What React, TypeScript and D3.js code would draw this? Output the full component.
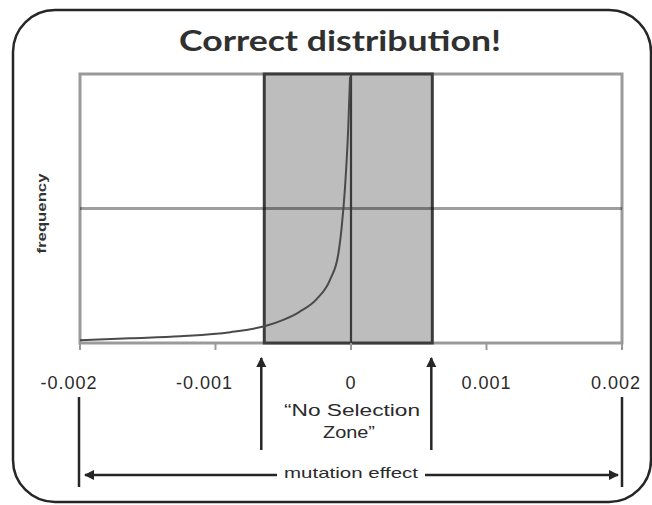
import React from "react";
import * as d3 from "d3";

// ---- data ----
const xDomain = [-0.002, 0.002];
const yDomain = [0, 2];
const xTicks = [-0.002, -0.001, 0, 0.001, 0.002];
const xTickLabels = ["-0.002", "-0.001", "0", "0.001", "0.002"];
const yGridValues = [1];
const zoneBounds = [-0.00064, 0.0006];
const curveX = [-0.002, -0.00163, -0.00126, -0.00089, -0.00062, -0.0005, -0.00038, -0.00025, -0.000155, -0.000094, -0.000069, -0.000044, -0.00002, -0.000007];
const curveY = [0.02, 0.035, 0.05, 0.08, 0.13, 0.172, 0.232, 0.33, 0.47, 0.66, 0.86, 1.16, 1.61, 1.98];
const titleText = "Correct distribution!";
const yLabel = "frequency";
const zoneLabel = ["\u201cNo Selection", "Zone\u201d"];
const xLabel = "mutation effect";

const W = 652;
const H = 505;
const M = { left: 80, right: 30, top: 74, bottom: 162 };

export default function App() {
  const x = d3.scaleLinear().domain(xDomain).range([M.left, W - M.right]);
  const y = d3.scaleLinear().domain(yDomain).range([H - M.bottom, M.top]);
  const pts: [number, number][] = curveX.map((v, i) => [v, curveY[i]]);
  const line = d3
    .line<[number, number]>()
    .x((d) => x(d[0]))
    .y((d) => y(d[1]))
    .curve(d3.curveMonotoneX);

  const x0 = x(xDomain[0]);
  const x1 = x(xDomain[1]);
  const yTop = y(yDomain[1]);
  const yBot = y(yDomain[0]);
  const zL = x(zoneBounds[0]);
  const zR = x(zoneBounds[1]);
  const xc = x(0);

  const dark = "#262626";
  const grid = "#9a9a9a";
  const font = "'Liberation Sans', Arial, sans-serif";

  const labelY = yBot + 46;
  const upTop = yBot + 15;
  const upBot = yBot + 107;
  const barTop = yBot + 54;
  const barBot = yBot + 144;
  const hArrowY = yBot + 132;
  const gapHalf = 74;

  return (
    <svg width={W} height={H} style={{ position: "absolute", left: 0, top: 0, background: "#fff" }}>
      <defs>
        <marker id="ah" viewBox="0 0 10 10" refX="9" refY="5" markerWidth="4.2" markerHeight="4.2" orient="auto-start-reverse" markerUnits="strokeWidth">
          <path d="M0,0 L10,5 L0,10 z" fill={dark} />
        </marker>
      </defs>
      <rect x={13} y={10} width={638} height={492} rx={42} ry={42} fill="#fff" stroke={dark} strokeWidth={2.5} />
      <text x={340} y={51} textAnchor="middle" fontFamily="Lato, 'Liberation Sans', sans-serif" fontWeight="bold" fontSize={28} fill="#303030" textLength={322} lengthAdjust="spacingAndGlyphs">
        {titleText}
      </text>
      <rect x={x0} y={yTop} width={x1 - x0} height={yBot - yTop} fill="#fff" stroke={grid} strokeWidth={3} />
      <rect x={zL} y={yTop} width={zR - zL} height={yBot - yTop} fill="#bdbdbd" stroke="#3c3c3c" strokeWidth={3} />
      {yGridValues.map((v) => (
        <line key={v} x1={x0} x2={x1} y1={y(v)} y2={y(v)} stroke="rgba(0,0,0,0.38)" strokeWidth={3} />
      ))}
      {xTicks.map((t) => (
        <line key={t} x1={x(t)} x2={x(t)} y1={yBot} y2={yBot + 7} stroke={grid} strokeWidth={2} />
      ))}
      <line x1={xc} x2={xc} y1={yTop} y2={yBot} stroke="#3a3a3a" strokeWidth={2.2} />
      <path d={line(pts) || ""} fill="none" stroke="#4a4a4a" strokeWidth={2} />
      {xTicks.map((t, i) => {
        const dx = t < 0 ? -11 : t === xDomain[1] ? -6 : 0;
        return (
          <text key={t} x={x(t) + dx} y={labelY} textAnchor="middle" fontFamily={font} fontSize={18} fill="#2a2a2a" letterSpacing={1}>
            {xTickLabels[i]}
          </text>
        );
      })}
      <text transform={`translate(46,${y(1) + 5}) rotate(-90)`} textAnchor="middle" fontFamily={font} fontWeight="bold" fontSize={13} fill="#333" textLength={80} lengthAdjust="spacingAndGlyphs">
        {yLabel}
      </text>
      <text x={xc + 1} y={yBot + 73} textAnchor="middle" fontFamily={font} fontSize={16} fill="#2a2a2a" textLength={136} lengthAdjust="spacingAndGlyphs">
        {zoneLabel[0]}
      </text>
      <text x={xc - 2} y={yBot + 95} textAnchor="middle" fontFamily={font} fontSize={16} fill="#2a2a2a" textLength={52} lengthAdjust="spacingAndGlyphs">
        {zoneLabel[1]}
      </text>
      {[zL - 3, zR - 1].map((xx, i) => (
        <line key={i} x1={xx} x2={xx} y1={upBot} y2={upTop} stroke={dark} strokeWidth={2.5} markerEnd="url(#ah)" />
      ))}
      {[x0 - 1, x1].map((xx, i) => (
        <line key={i} x1={xx} x2={xx} y1={barTop} y2={barBot} stroke={dark} strokeWidth={2.5} />
      ))}
      <line x1={xc - gapHalf} x2={x0 + 5} y1={hArrowY} y2={hArrowY} stroke={dark} strokeWidth={2.5} markerEnd="url(#ah)" />
      <line x1={xc + gapHalf} x2={x1 - 4} y1={hArrowY} y2={hArrowY} stroke={dark} strokeWidth={2.5} markerEnd="url(#ah)" />
      <text x={xc} y={hArrowY + 3} textAnchor="middle" fontFamily={font} fontSize={15} fill="#2a2a2a" textLength={134} lengthAdjust="spacingAndGlyphs">
        {xLabel}
      </text>
    </svg>
  );
}
